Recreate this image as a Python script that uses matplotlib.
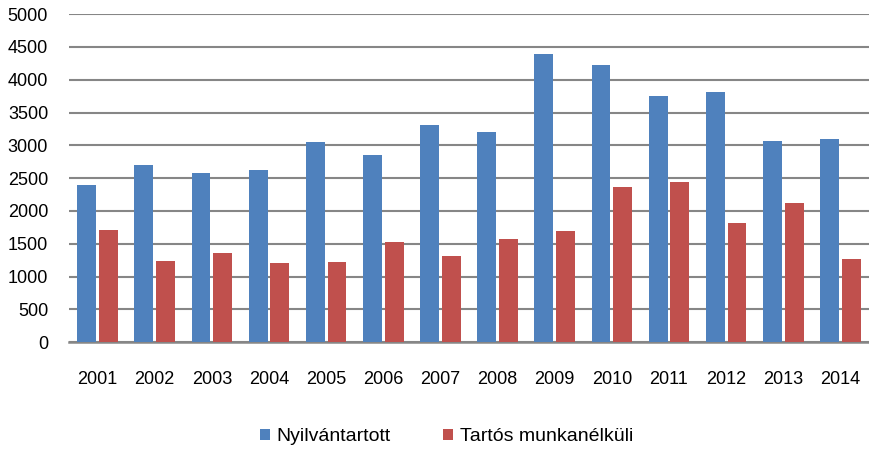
import matplotlib
matplotlib.use("Agg")
import matplotlib.pyplot as plt
import numpy as np

years = ["2001", "2002", "2003", "2004", "2005", "2006", "2007",
         "2008", "2009", "2010", "2011", "2012", "2013", "2014"]
nyilvantartott = [2400, 2700, 2580, 2620, 3050, 2850, 3305,
                  3210, 4385, 4220, 3745, 3815, 3070, 3090]
tartos = [1710, 1240, 1355, 1205, 1220, 1525, 1320,
          1575, 1695, 2365, 2435, 1810, 2115, 1275]
series_names = ["Nyilvántartott", "Tartós munkanélküli"]

BLUE = "#4F81BD"
RED = "#C0504D"
GRID = "#868686"

plt.rcParams["font.family"] = ["Liberation Sans", "DejaVu Sans"]

fig = plt.figure(figsize=(8.69, 4.49), dpi=100)
ax = fig.add_axes([0.0794, 0.2376, 0.9206, 0.7312])

x = np.arange(len(years))
w = 0.33
ax.bar(x - 0.19, nyilvantartott, width=w, color=BLUE, label=series_names[0], zorder=3)
ax.bar(x + 0.19, tartos, width=w, color=RED, label=series_names[1], zorder=3)

ax.set_xlim(-0.5, len(years) - 0.5)
ax.set_ylim(0, 5000)
ax.set_yticks(range(0, 5001, 500))
ax.set_xticks(x)
ax.set_xticklabels(years)
ax.yaxis.grid(True, color=GRID, linewidth=1.5, zorder=0)
ax.set_axisbelow(True)

for s in ["top", "right", "left"]:
    ax.spines[s].set_visible(False)
ax.spines["bottom"].set_color(GRID)
ax.spines["bottom"].set_linewidth(1.8)

ax.tick_params(axis="x", length=0, pad=21, labelsize=13, colors="#000000")
ax.tick_params(axis="y", length=0, pad=15, labelsize=13, colors="#000000")

fig.legend(loc="center", bbox_to_anchor=(0.514, 0.027), ncol=2, frameon=False,
           fontsize=14, handlelength=0.5, handleheight=0.5, columnspacing=2.7,
           handletextpad=0.35)

fig.savefig("out.png", dpi=100)
